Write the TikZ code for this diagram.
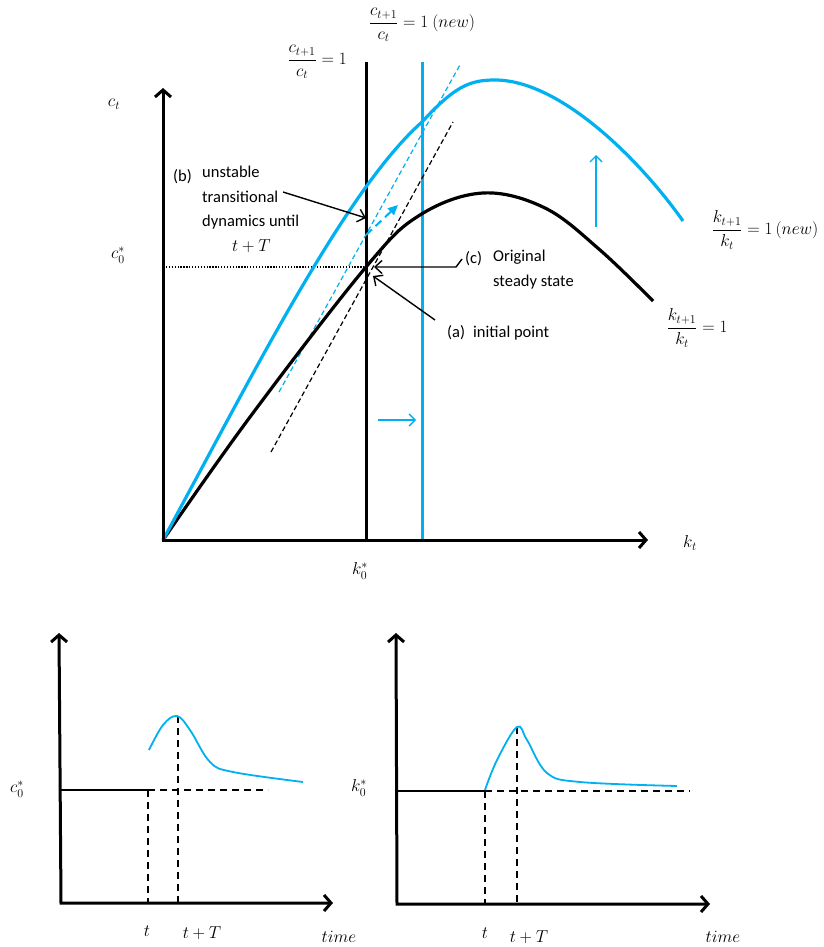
\documentclass[tikz,border=0pt]{standalone}
\usepackage{amsmath}
\usepackage[no-math]{fontspec}
\setmainfont{Carlito}
\usepackage{xcolor}
\usetikzlibrary{arrows.meta}

\definecolor{newblue}{RGB}{0,176,240}

\tikzset{
  axispair/.style={line width=3pt, line join=miter,
    {Straight Barb[length=7pt,width=16pt]}-{Straight Barb[length=7pt,width=16pt]}},
  pointer/.style={line width=1.4pt, -{Straight Barb[length=7pt,width=13pt]}},
  shiftarrow/.style={newblue, line width=1.4pt, -{Straight Barb[length=6pt,width=12pt]}},
  tangent/.style={line width=1.2pt, dash pattern=on 5pt off 3pt},
  guide/.style={line width=1.6pt, dash pattern=on 7pt off 5pt},
  lbl/.style={inner sep=0pt, font=\fontsize{17.5}{20}\selectfont},
  txt/.style={inner sep=0pt, font=\fontsize{16.5}{24.5}\selectfont, align=left},
}

\begin{document}
\begin{tikzpicture}[x=1pt,y=-1pt]
\useasboundingbox (0,0) rectangle (823,947);

% phase diagram
\coordinate (O) at (163,540);
\coordinate (ctip) at (163,88);
\coordinate (ktip) at (648,540);
\coordinate (ss) at (366,267);
\coordinate (ctop) at (366,62);
\coordinate (cbot) at (366,540);
\coordinate (ntop) at (422,62);
\coordinate (nbot) at (422,540);
\coordinate (cstar) at (163,267);

\draw[line width=3pt] (ctop) -- (cbot);
\draw[newblue, line width=3pt] (ntop) -- (nbot);
\draw[line width=1.3pt, dash pattern=on 1.3pt off 1.6pt] (cstar) -- (ss);
\draw[tangent] (271,452) -- (453,122);
\draw[tangent, newblue] (279,392) -- (461,63);

\draw[line width=3.2pt] plot[smooth, tension=0.6] coordinates
  {(163,540) (250,417) (366,267) (420,215) (483,193) (545,208) (600,250) (653,301)};
\draw[newblue, line width=3.2pt] (O) .. controls (250,380) and (345,190) .. (422,122)
  .. controls (455,86) and (470,80) .. (495,80)
  .. controls (560,80) and (640,160) .. (683,221);

\draw[axispair] (ctip) -- (O) -- (ktip);

\node[lbl] (ctlab) at (114,104) {$c_t$};
\node[lbl] (c0lab) at (118,255) {$c_0^*$};
\node[lbl] (ktlab) at (690,543) {$k_t$};
\node[lbl] (k0lab) at (360,571) {$k_0^*$};
\node[lbl] (cdot) at (317,62) {$\dfrac{c_{t+1}}{c_t}=1$};
\node[lbl] (cdotnew) at (422,25) {$\dfrac{c_{t+1}}{c_t}=1\ (new)$};
\node[lbl] (kdotnew) at (765,230) {$\dfrac{k_{t+1}}{k_t}=1\,(new)$};
\node[lbl] (kdot) at (697,328) {$\dfrac{k_{t+1}}{k_t}=1$};

% annotations
\node[txt, anchor=base west] (blab) at (173,181) {(b)};
\node[txt, anchor=north west] (btext) at (202,166)
  {unstable\\transitional\\dynamics until\\\hspace*{30pt}$t+T$};
\node[txt, anchor=base west] (clab) at (465,263) {(c)};
\node[txt, anchor=north west] (ctext) at (493,250) {Original\\steady state};
\node[txt, anchor=base west] (alab) at (447,337) {(a)};
\node[txt, anchor=base west] (atext) at (473,337) {initial point};

\coordinate (bstart) at (283,192);
\coordinate (bend) at (366,218);
\coordinate (cstart) at (462,259);
\coordinate (cbend) at (456,267);
\coordinate (cend) at (374,267);
\coordinate (astart) at (435,320);
\coordinate (aend) at (373,276);
\draw[pointer] (bstart) -- (bend);
\draw[pointer] (cstart) -- (cbend) -- (cend);
\draw[pointer] (astart) -- (aend);

\coordinate (jump) at (366,235);
\coordinate (jumptip) at (398,205);
\draw[newblue, line width=2pt, dash pattern=on 8pt off 5pt,
  -{Triangle[length=10pt,width=9pt]}] (jump) -- (jumptip);

\coordinate (rs) at (378,420);
\coordinate (re) at (416,420);
\coordinate (us) at (596,227);
\coordinate (ue) at (596,155);
\draw[shiftarrow] (rs) -- (re);
\draw[shiftarrow] (us) -- (ue);

% consumption over time
\coordinate (Oc) at (61,903);
\draw[line width=1.8pt] (61,790) -- (148,790);
\draw[guide] (148,790) -- (268,790);
\draw[guide] (148,790) -- (148,903);
\draw[guide] (178,716) -- (178,903);
\draw[newblue, line width=1.8pt] plot[smooth, tension=0.6] coordinates
  {(149,750) (163,725) (177,716) (190,730) (210,762) (233,772) (303,782)};
\draw[axispair] (59,633) -- (Oc) -- (333,903);
\node[lbl] (c0b) at (17,789) {$c_0^*$};
\node[lbl] (tc) at (147,931) {$t$};
\node[lbl] (tTc) at (202,933) {$t+T$};
\node[lbl] (timec) at (339,937) {$time$};

% capital over time
\coordinate (Ok) at (397,904);
\draw[line width=1.8pt] (397,791) -- (485,791);
\draw[guide] (485,791) -- (690,791);
\draw[guide] (485,791) -- (485,904);
\draw[guide] (517,727) -- (517,904);
\draw[newblue, line width=1.8pt] plot[smooth, tension=0.6] coordinates
  {(485,790) (497,760) (517,727) (527,740) (547,773) (580,782) (677,786)};
\draw[axispair] (396,633) -- (Ok) -- (710,904);
\node[lbl] (k0b) at (359,788) {$k_0^*$};
\node[lbl] (tk) at (485,933) {$t$};
\node[lbl] (tTk) at (529,937) {$t+T$};
\node[lbl] (timek) at (723,937) {$time$};
\end{tikzpicture}
\end{document}
